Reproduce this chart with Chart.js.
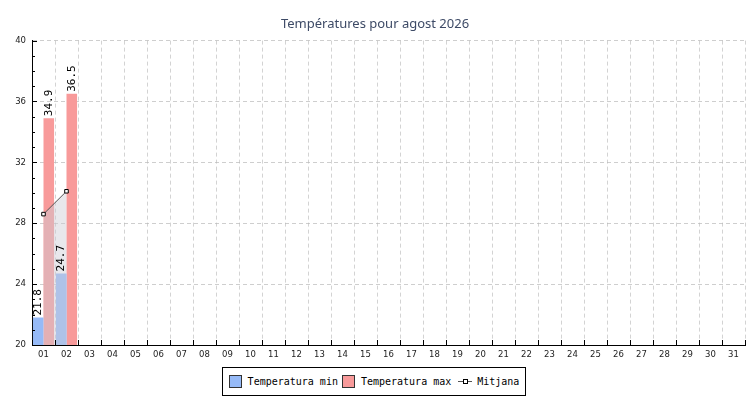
<!DOCTYPE html>
<html>
<head>
<meta charset="utf-8">
<script src="https://cdn.jsdelivr.net/npm/chart.js@4/dist/chart.umd.min.js"></script>
<style>
    html, body { margin: 0; padding: 0; background: #fff; }
    #wrap { position: relative; width: 750px; height: 400px; }
    #chart { position: absolute; left: 0; top: 0; }
    #legend {
        position: absolute; left: 222px; top: 367px; width: 302px; height: 27px;
        border: 1px solid #000; background: #fff; white-space: nowrap;
        display: flex; align-items: center; justify-content: center;
        font-family: 'DejaVu Sans Mono', monospace; font-size: 10px; color: #000;
    }
    #legend .item { display: flex; align-items: center; margin: 0 2px; white-space: nowrap; }
    #legend .box { width: 11px; height: 11px; border: 1px solid #333; margin-right: 6px; }
    #legend .line { position: relative; width: 14px; height: 9px; margin: 0 5px 0 3px; }
    #legend .line:before { content: ''; position: absolute; left: 0; right: 0; top: 4px; border-top: 1px solid #555; }
    #legend .line:after { content: ''; position: absolute; left: 5px; top: 2px; width: 3px; height: 3px; border: 1px solid #000; background: #fff; }
</style>
</head>
<body>
<div id="wrap">
    <canvas id="chart" width="750" height="400"></canvas>
    <div id="legend">
        <span class="item"><span class="box" style="background:#96baf7"></span>Temperatura min</span>
        <span class="item"><span class="box" style="background:#f89a9a"></span>Temperatura max</span>
        <span class="item"><span class="line"></span>Mitjana</span>
    </div>
</div>
<script>
    // --- DADES ---
    const days = ['01','02','03','04','05','06','07','08','09','10','11','12','13','14','15','16',
                  '17','18','19','20','21','22','23','24','25','26','27','28','29','30','31'];
    const tempMin = [21.8, 24.7];
    const tempMax = [34.9, 36.5];
    const tempMean = [28.6, 30.1];
    const yTickLabels = [20, 24, 28, 32, 36, 40];

    // etiquetes verticals sobre les barres
    const barLabels = {
        id: 'barLabels',
        afterDatasetsDraw(chart) {
            const ctx = chart.ctx;
            ctx.save();
            ctx.font = '11px "DejaVu Sans Mono", monospace';
            ctx.fillStyle = '#000';
            ctx.textAlign = 'left';
            ctx.textBaseline = 'middle';
            chart.data.datasets.forEach((ds, i) => {
                if (ds.type !== 'bar') return;
                chart.getDatasetMeta(i).data.forEach((el, j) => {
                    const v = ds.data[j];
                    if (v == null) return;
                    ctx.save();
                    ctx.translate(el.x, el.y - 2);
                    ctx.rotate(-Math.PI / 2);
                    ctx.fillText(v.toFixed(1), 0, 0);
                    ctx.restore();
                });
            });
            ctx.restore();
        }
    };

    // marques dels eixos cap a dins
    const innerTicks = {
        id: 'innerTicks',
        afterDraw(chart) {
            const ctx = chart.ctx;
            const x = chart.scales.x, y = chart.scales.y;
            const area = chart.chartArea;
            ctx.save();
            ctx.strokeStyle = '#000';
            ctx.lineWidth = 1;
            ctx.beginPath();
            for (let v = y.min; v <= y.max; v++) {
                const py = Math.round(y.getPixelForValue(v)) + 0.5;
                const len = v % 4 === 0 ? 5 : 3;
                ctx.moveTo(area.left, py);
                ctx.lineTo(area.left + len, py);
            }
            for (let i = 0; i <= days.length; i++) {
                const px = Math.round(x.getPixelForValue(i - 0.5)) + 0.5;
                ctx.moveTo(px, area.bottom);
                ctx.lineTo(px, area.bottom - 5);
            }
            ctx.stroke();
            ctx.restore();
        }
    };

    new Chart(document.getElementById('chart'), {
        data: {
            labels: days,
            datasets: [
                {
                    type: 'line', label: 'Mitjana', data: tempMean, order: 0,
                    borderColor: '#555', borderWidth: 1,
                    backgroundColor: 'rgba(205, 205, 212, 0.45)', fill: 'start',
                    pointStyle: 'rect', pointRadius: 2.5, pointBorderColor: '#000',
                    pointBackgroundColor: '#fff', pointBorderWidth: 1, tension: 0
                },
                {
                    type: 'bar', label: 'Temperatura min', data: tempMin, order: 1,
                    backgroundColor: '#96baf7', barPercentage: 1, categoryPercentage: 0.92
                },
                {
                    type: 'bar', label: 'Temperatura max', data: tempMax, order: 1,
                    backgroundColor: '#f89a9a', barPercentage: 1, categoryPercentage: 0.92
                }
            ]
        },
        options: {
            responsive: false, animation: false,
            layout: { padding: { left: 0, right: 0, top: 0, bottom: 0 } },
            plugins: {
                legend: { display: false },
                tooltip: { enabled: false },
                title: {
                    display: true, text: 'Températures pour agost 2026',
                    color: '#3d4a66', font: { family: 'Noto Sans', size: 13, weight: 'normal' },
                    padding: { top: 16, bottom: 9 }
                }
            },
            scales: {
                x: {
                    afterFit: s => { s.height = 55; },
                    border: { display: true, color: '#000', dash: [4, 3] },
                    grid: { color: 'rgba(200,200,200,0.8)', drawTicks: false, offset: true },
                    ticks: { color: '#222', font: { family: 'DejaVu Sans', size: 8.5 }, padding: 5, autoSkip: false, maxRotation: 0 }
                },
                y: {
                    min: 20, max: 40, z: 1,
                    afterFit: s => { s.width = 32; },
                    border: { display: true, color: '#000', dash: [4, 3] },
                    grid: {
                        drawTicks: false,
                        color: c => (c.tick && c.tick.value % 4 === 0 && c.tick.value !== 20) ? 'rgba(185,185,185,0.7)' : 'rgba(0,0,0,0)'
                    },
                    ticks: {
                        stepSize: 1, autoSkip: false, padding: 6, color: '#222',
                        font: { family: 'DejaVu Sans', size: 8.5 },
                        callback: v => v % 4 === 0 ? v : ''
                    }
                }
            }
        },
        plugins: [barLabels, innerTicks]
    });
</script>
</body>
</html>
